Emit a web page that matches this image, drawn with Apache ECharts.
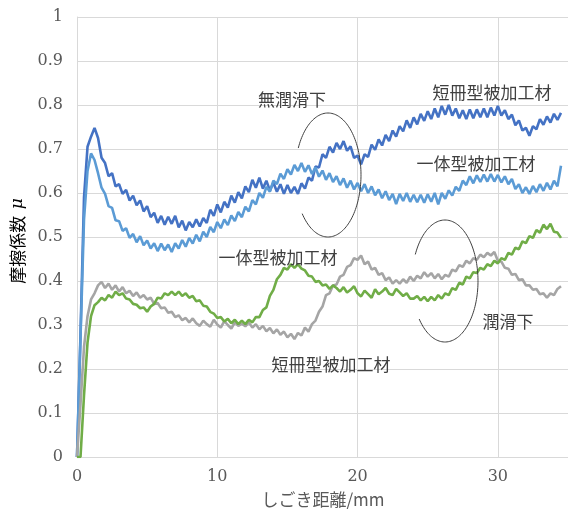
<!DOCTYPE html>
<html><head><meta charset="utf-8">
<script src="https://cdn.jsdelivr.net/npm/echarts@6/dist/echarts.min.js"></script>
<style>html,body{margin:0;padding:0;background:#fff}#c{width:568px;height:510px}</style>
</head><body><div id="c"></div>
<script>
// sliding distance (mm)
const distance = [
0,0.25,0.5,0.75,1,1.25,1.5,1.75,
2,2.25,2.5,2.75,3,3.25,3.5,3.75,
4,4.25,4.5,4.75,5,5.25,5.5,5.75,
6,6.25,6.5,6.75,7,7.25,7.5,7.75,
8,8.25,8.5,8.75,9,9.25,9.5,9.75,
10,10.25,10.5,10.75,11,11.25,11.5,11.75,
12,12.25,12.5,12.75,13,13.25,13.5,13.75,
14,14.25,14.5,14.75,15,15.25,15.5,15.75,
16,16.25,16.5,16.75,17,17.25,17.5,17.75,
18,18.25,18.5,18.75,19,19.25,19.5,19.75,
20,20.25,20.5,20.75,21,21.25,21.5,21.75,
22,22.25,22.5,22.75,23,23.25,23.5,23.75,
24,24.25,24.5,24.75,25,25.25,25.5,25.75,
26,26.25,26.5,26.75,27,27.25,27.5,27.75,
28,28.25,28.5,28.75,29,29.25,29.5,29.75,
30,30.25,30.5,30.75,31,31.25,31.5,31.75,
32,32.25,32.5,32.75,33,33.25,33.5,33.75,
34,34.25,34.5];

// 短冊型被加工材・無潤滑下
const stripDry = [
0,0.28,0.59,0.705,0.728,0.748,0.725,0.68,
0.668,0.638,0.645,0.615,0.62,0.598,0.607,0.583,
0.594,0.572,0.583,0.558,0.57,0.545,0.555,0.532,
0.548,0.528,0.546,0.53,0.548,0.522,0.537,0.515,
0.534,0.522,0.54,0.524,0.543,0.532,0.562,0.548,
0.574,0.556,0.58,0.567,0.594,0.578,0.602,0.588,
0.615,0.602,0.63,0.612,0.635,0.61,0.628,0.605,
0.624,0.603,0.62,0.598,0.618,0.6,0.614,0.598,
0.622,0.61,0.635,0.628,0.66,0.658,0.688,0.68,
0.705,0.692,0.714,0.7,0.718,0.696,0.706,0.68,
0.685,0.665,0.688,0.682,0.71,0.698,0.722,0.708,
0.732,0.718,0.742,0.728,0.752,0.74,0.765,0.748,
0.772,0.756,0.78,0.764,0.786,0.768,0.792,0.772,
0.798,0.778,0.8,0.776,0.792,0.77,0.788,0.768,
0.79,0.77,0.79,0.772,0.792,0.772,0.794,0.776,
0.798,0.776,0.788,0.768,0.778,0.754,0.765,0.742,
0.748,0.73,0.752,0.745,0.768,0.755,0.774,0.76,
0.78,0.766,0.782];

// 一体型被加工材・無潤滑下
const integralDry = [
0,0.27,0.54,0.65,0.69,0.675,0.645,0.612,
0.598,0.57,0.566,0.538,0.536,0.514,0.52,0.498,
0.507,0.488,0.502,0.481,0.492,0.474,0.486,0.468,
0.485,0.47,0.483,0.466,0.486,0.474,0.493,0.478,
0.498,0.485,0.505,0.49,0.512,0.5,0.523,0.511,
0.534,0.52,0.54,0.527,0.549,0.536,0.557,0.545,
0.569,0.558,0.584,0.574,0.6,0.589,0.614,0.603,
0.628,0.62,0.644,0.632,0.654,0.642,0.664,0.65,
0.668,0.648,0.663,0.643,0.658,0.637,0.651,0.63,
0.645,0.625,0.638,0.618,0.633,0.612,0.628,0.608,
0.623,0.604,0.62,0.6,0.615,0.595,0.608,0.588,
0.604,0.584,0.598,0.575,0.598,0.582,0.6,0.58,
0.596,0.579,0.596,0.578,0.597,0.58,0.6,0.574,
0.6,0.587,0.606,0.594,0.614,0.605,0.628,0.618,
0.638,0.622,0.64,0.625,0.642,0.626,0.643,0.626,
0.641,0.624,0.638,0.62,0.632,0.609,0.62,0.6,
0.613,0.598,0.616,0.602,0.62,0.605,0.623,0.608,
0.628,0.615,0.662];

// 短冊型被加工材・潤滑下
const stripLub = [
0,0.12,0.25,0.32,0.358,0.372,0.39,0.398,
0.384,0.394,0.38,0.39,0.376,0.386,0.372,0.378,
0.366,0.374,0.362,0.368,0.358,0.362,0.348,0.35,
0.338,0.34,0.328,0.33,0.318,0.322,0.311,0.316,
0.306,0.315,0.304,0.298,0.31,0.302,0.296,0.312,
0.301,0.294,0.309,0.3,0.292,0.306,0.298,0.303,
0.297,0.306,0.294,0.302,0.29,0.298,0.286,0.293,
0.281,0.29,0.278,0.285,0.272,0.28,0.268,0.282,
0.276,0.294,0.285,0.302,0.31,0.33,0.342,0.368,
0.372,0.39,0.392,0.41,0.414,0.432,0.436,0.452,
0.448,0.458,0.438,0.444,0.426,0.43,0.414,0.418,
0.402,0.408,0.394,0.402,0.394,0.404,0.396,0.41,
0.4,0.412,0.406,0.42,0.41,0.418,0.406,0.416,
0.404,0.414,0.41,0.426,0.422,0.436,0.432,0.446,
0.44,0.452,0.448,0.46,0.454,0.464,0.458,0.466,
0.446,0.444,0.43,0.428,0.414,0.416,0.402,0.404,
0.39,0.39,0.38,0.382,0.37,0.372,0.362,0.372,
0.368,0.382,0.388];

// 一体型被加工材・潤滑下
const integralLub = [
0,0,0.14,0.26,0.32,0.345,0.352,0.362,
0.356,0.368,0.362,0.376,0.368,0.372,0.36,0.358,
0.348,0.346,0.338,0.34,0.33,0.342,0.348,0.362,
0.36,0.372,0.368,0.376,0.368,0.376,0.366,0.372,
0.362,0.366,0.354,0.356,0.344,0.342,0.33,0.326,
0.316,0.318,0.308,0.314,0.304,0.312,0.302,0.31,
0.302,0.312,0.306,0.318,0.318,0.334,0.34,0.366,
0.38,0.404,0.414,0.43,0.426,0.438,0.43,0.438,
0.428,0.424,0.412,0.41,0.398,0.4,0.39,0.392,
0.382,0.39,0.384,0.376,0.386,0.374,0.38,0.388,
0.372,0.365,0.378,0.37,0.362,0.381,0.37,0.376,
0.384,0.371,0.368,0.382,0.374,0.366,0.372,0.36,
0.36,0.366,0.356,0.364,0.354,0.364,0.356,0.368,
0.36,0.372,0.368,0.384,0.38,0.396,0.392,0.41,
0.406,0.42,0.418,0.43,0.426,0.438,0.434,0.446,
0.44,0.452,0.448,0.464,0.46,0.476,0.472,0.49,
0.486,0.502,0.498,0.516,0.51,0.528,0.518,0.53,
0.512,0.51,0.498];

const seriesNames = ['短冊型・無潤滑','一体型・無潤滑','短冊型・潤滑','一体型・潤滑'];
const seriesValues = [stripDry, integralDry, stripLub, integralLub];
const seriesColors = ['#4472C4','#5B9BD5','#A5A5A5','#70AD47'];

const xAxisTitle = 'しごき距離/mm';
const yAxisTitle = '摩擦係数';

const chart = echarts.init(document.getElementById('c'), null, {renderer:'canvas'});
const grid = '#d9d9d9';
const tickFont = {fontFamily:'DejaVu Serif', fontSize:16, color:'#595959'};
const jp = '"Noto Sans CJK JP", sans-serif';

function ellipsePts(cx, cy, rx, ry, t0, t1){
  const pts = [];
  for (let t = t0; t <= t1 + 1e-9; t += 0.04) pts.push([cx + rx*Math.cos(t), cy + ry*Math.sin(t)]);
  return pts;
}
function label(text, x, y){
  return {type:'text', x:x, y:y, z:100, style:{text:text, fill:'#404040', font:'17px ' + jp, align:'center', verticalAlign:'middle'}};
}

chart.setOption({
  animation:false,
  backgroundColor:'#fff',
  grid:{left:77, right:0, top:17, bottom:53},
  xAxis:{type:'value', min:0, max:35, interval:10,
    axisLine:{show:true, lineStyle:{color:grid}}, axisTick:{show:false},
    axisLabel:Object.assign({margin:12, showMaxLabel:false}, tickFont),
    splitLine:{show:true, lineStyle:{color:grid, width:1}}},
  yAxis:{type:'value', min:0, max:1, interval:0.1,
    axisLine:{show:true, lineStyle:{color:grid}}, axisTick:{show:false},
    axisLabel:Object.assign({margin:14}, tickFont),
    splitLine:{show:true, lineStyle:{color:grid, width:1}}},
  series: seriesValues.map((vals, k) => ({
    name: seriesNames[k], type:'line', showSymbol:false, symbol:'none',
    data: distance.map((d, i) => [d, vals[i]]),
    lineStyle:{color:seriesColors[k], width:2.6}, itemStyle:{color:seriesColors[k]}, z:2+k
  })),
  graphic:[
    {type:'text', x:18, y:241, rotation:Math.PI/2, z:100,
      style:{text:'{a|' + yAxisTitle + '}  {b|μ}', align:'center', verticalAlign:'middle',
        rich:{a:{fontFamily:jp, fontSize:17, color:'#595959'}, b:{fontFamily:'DejaVu Serif', fontStyle:'italic', fontSize:17, color:'#595959'}}}},
    {type:'text', x:323, y:500, z:100, style:{text:xAxisTitle, fill:'#595959', font:'17px ' + jp, align:'center', verticalAlign:'middle'}},
    label('無潤滑下', 292, 100),
    label('短冊型被加工材', 492, 93),
    label('一体型被加工材', 476, 164),
    label('一体型被加工材', 278, 258),
    label('潤滑下', 508, 322),
    label('短冊型被加工材', 331, 365),
    {type:'polyline', z:100, shape:{points:ellipsePts(328,175,33,62,Math.PI+0.45,3*Math.PI-0.64)}, style:{stroke:'#404040', lineWidth:1, fill:null}},
    {type:'polyline', z:100, shape:{points:ellipsePts(445,281,33,61,Math.PI+0.45,3*Math.PI-0.64)}, style:{stroke:'#404040', lineWidth:1, fill:null}}
  ]
});
</script></body></html>
